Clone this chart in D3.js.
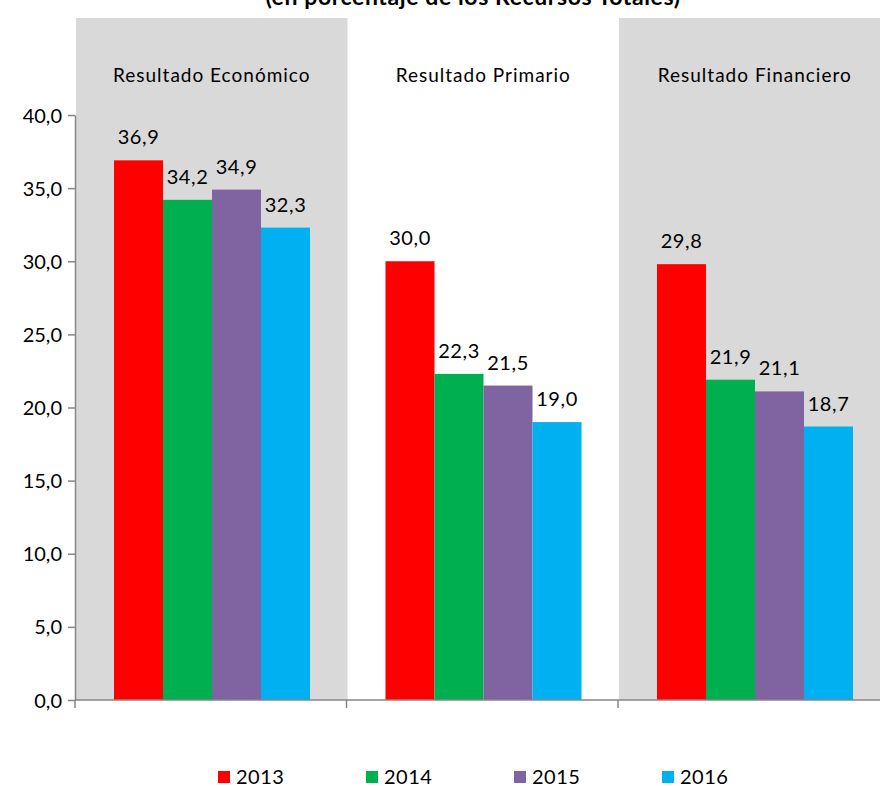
<!DOCTYPE html>
<html>
<head>
<meta charset="utf-8">
<script src="https://d3js.org/d3.v7.min.js"></script>
<style>
  body { margin:0; background:#fff; }
  svg text { font-family: Lato, "Open Sans", sans-serif; fill:#000; }
</style>
</head>
<body>
<div id="chart"></div>
<script>
// data
var categories = ["Resultado Económico", "Resultado Primario", "Resultado Financiero"];
var years = ["2013", "2014", "2015", "2016"];
var values2013 = [36.9, 30.0, 29.8];
var values2014 = [34.2, 22.3, 21.9];
var values2015 = [34.9, 21.5, 21.1];
var values2016 = [32.3, 19.0, 18.7];
var yTicks = [0, 5, 10, 15, 20, 25, 30, 35, 40];
var colours = ["#ff0000", "#00b050", "#8064a2", "#00b0f0"];

var series = [values2013, values2014, values2015, values2016];
var rows = [];
categories.forEach(function(c, ci) {
  years.forEach(function(y, yi) {
    rows.push({cat: c, year: y, value: series[yi][ci], yi: yi});
  });
});

var width = 880, height = 786;
var svg = d3.select("#chart").append("svg")
  .attr("width", width).attr("height", height);

var x0 = d3.scaleBand().domain(categories).range([75, 889.5]);
var x1 = d3.scaleBand().domain(years).range([39, 235]);
var y = d3.scaleLinear().domain([0, 40]).range([700, 115]);
var fmt = function(v) { return d3.format(".1f")(v).replace(".", ","); };

// title (cut off at the top of the picture)
svg.append("text")
  .attr("x", 473).attr("y", 5)
  .attr("text-anchor", "middle")
  .style("font-weight", "bold").style("font-size", "23px")
  .style("letter-spacing", "0.6px")
  .text("(en porcentaje de los Recursos Totales)");

// shaded panels behind first and third group
svg.selectAll("rect.panel")
  .data(categories.filter(function(d, i) { return i % 2 == 0; }))
  .enter().append("rect")
  .attr("class", "panel")
  .attr("x", function(d) { return x0(d) + 1; })
  .attr("y", 18)
  .attr("width", x0.bandwidth())
  .attr("height", 700 - 18)
  .attr("fill", "#d9d9d9");

// group labels
svg.selectAll("text.cat")
  .data(categories)
  .enter().append("text")
  .attr("class", "cat")
  .attr("x", function(d) { return x0(d) + x0.bandwidth() / 2 + 1; })
  .attr("y", 82)
  .attr("text-anchor", "middle")
  .style("font-size", "19px")
  .style("letter-spacing", "1px")
  .text(function(d) { return d; });

// bars
svg.selectAll("rect.bar")
  .data(rows)
  .enter().append("rect")
  .attr("class", "bar")
  .attr("x", function(d) { return x0(d.cat) + x1(d.year); })
  .attr("y", function(d) { return y(d.value); })
  .attr("width", x1.bandwidth())
  .attr("height", function(d) { return y(0) - y(d.value); })
  .attr("fill", function(d) { return colours[d.yi]; });

// value labels
svg.selectAll("text.val")
  .data(rows)
  .enter().append("text")
  .attr("class", "val")
  .attr("x", function(d) { return x0(d.cat) + x1(d.year) + x1.bandwidth() / 2; })
  .attr("y", function(d) { return y(d.value) - 16; })
  .attr("text-anchor", "middle")
  .style("font-size", "20px")
  .style("letter-spacing", "0.6px")
  .text(function(d) { return fmt(d.value); });

// y axis
var yAxis = d3.axisLeft(y).tickValues(yTicks).tickSize(7).tickSizeOuter(0)
  .tickFormat(fmt).tickPadding(6);
var gy = svg.append("g").attr("transform", "translate(75,0)").call(yAxis);
gy.selectAll("text").style("font-size", "20px").attr("dy", "0.35em");
gy.selectAll("line, path").attr("stroke", "#868686").attr("stroke-width", 1.5);

// x axis line with ticks at group boundaries
var gx = svg.append("g").attr("transform", "translate(0,700)");
gx.append("line").attr("x1", 75).attr("x2", 880)
  .attr("stroke", "#868686").attr("stroke-width", 1.5);
gx.selectAll("line.tk")
  .data(categories)
  .enter().append("line")
  .attr("class", "tk")
  .attr("x1", function(d) { return x0(d); })
  .attr("x2", function(d) { return x0(d); })
  .attr("y1", 0).attr("y2", 8)
  .attr("stroke", "#868686").attr("stroke-width", 1.5);

// legend
var lg = svg.selectAll("g.leg")
  .data(years)
  .enter().append("g")
  .attr("class", "leg")
  .attr("transform", function(d, i) { return "translate(" + (218 + i * 148) + ",769)"; });
lg.append("rect").attr("width", 12).attr("height", 12).attr("y", 2)
  .attr("fill", function(d, i) { return colours[i]; });
lg.append("text").attr("x", 18).attr("y", 15)
  .style("font-size", "20px")
  .style("letter-spacing", "0.5px")
  .text(function(d) { return d; });
</script>
</body>
</html>
